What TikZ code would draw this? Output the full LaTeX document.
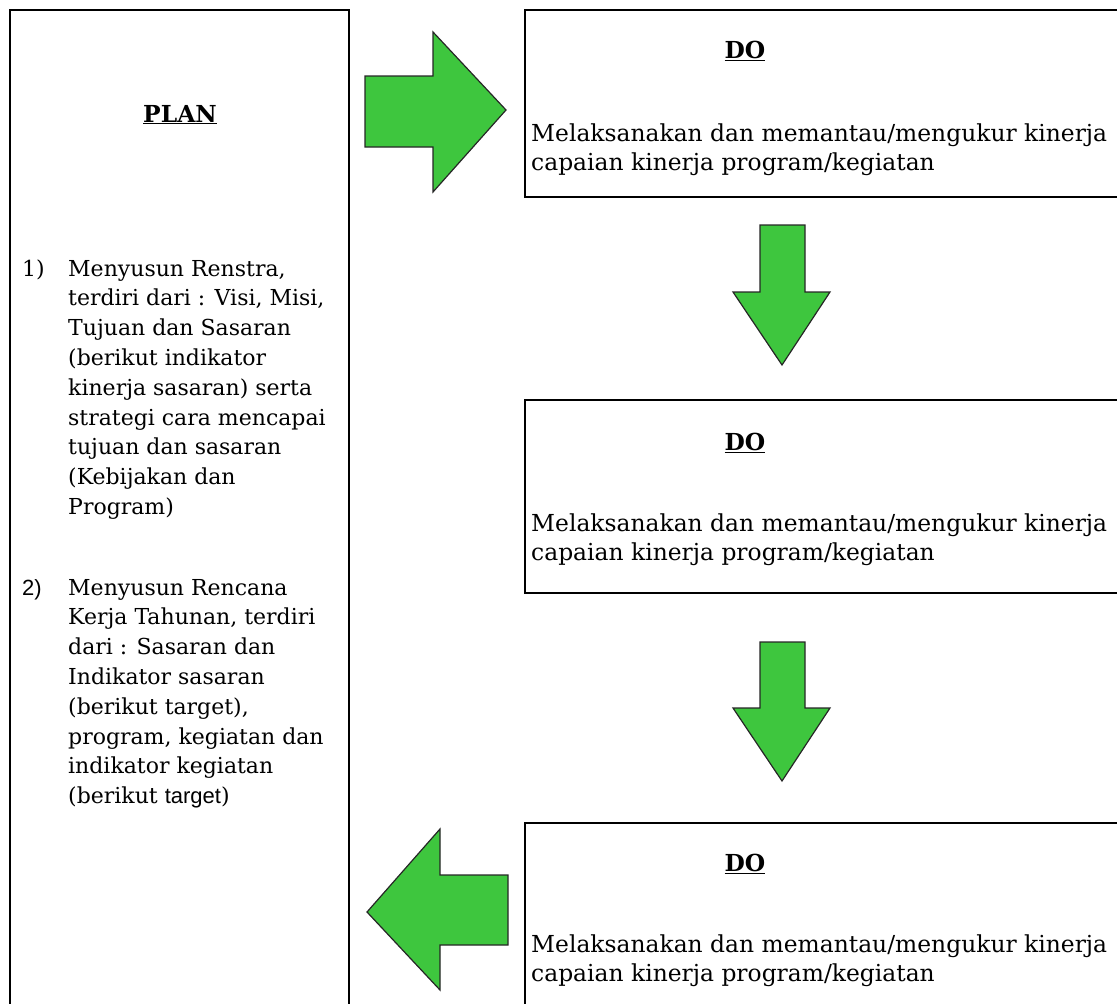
\documentclass[tikz,border=0pt]{standalone}
\usepackage{fontspec}
\setmainfont{DejaVu Serif}
\newfontfamily\arialfont{Liberation Sans}
\definecolor{arrowgreen}{RGB}{62,198,62}
\tikzset{
  frame/.style={draw=black, line width=1.3pt},
  bigarrow/.style={fill=arrowgreen, draw=black!85, line width=1.2pt, line join=miter},
  body/.style={anchor=base west, inner sep=0pt, align=left,
    font=\fontsize{23.4}{29.8}\selectfont},
  listtext/.style={anchor=base west, inner sep=0pt, align=left,
    font=\fontsize{22}{29.8}\selectfont},
  title/.style={anchor=base, inner sep=0pt, font=\fontsize{23.4}{29.8}\selectfont\bfseries},
}
\begin{document}
\begin{tikzpicture}[x=1pt,y=-1pt]
\useasboundingbox (0,0) rectangle (1117,1004);
\clip (0,0) rectangle (1117,1004);
% boxes
\draw[frame] (10,10) rectangle (349,1020);
\draw[frame] (525,10) rectangle (1130,197);
\draw[frame] (525,400) rectangle (1130,593);
\draw[frame] (525,823) rectangle (1130,1020);
% PLAN
\node[title] (plan) at (180,122) {\underline{PLAN}};
\node[listtext] (n1) at (22,276) {1)};
% anchored at the baseline of the last line
\node[listtext] (t1) at (68,514.4) {Menyusun Renstra,\\terdiri dari : Visi, Misi,\\Tujuan dan Sasaran\\(berikut indikator\\kinerja sasaran) serta\\strategi cara mencapai\\tujuan dan sasaran\\(Kebijakan dan\\Program)};
\node[listtext] (n2) at (22,595) {\arialfont 2)};
\node[listtext] (t2) at (68,803.6) {Menyusun Rencana\\Kerja Tahunan, terdiri\\dari : Sasaran dan\\Indikator sasaran\\(berikut target),\\program, kegiatan dan\\indikator kegiatan\\(berikut {\arialfont target})};
% DO boxes
\node[title] (do1) at (745,58) {\underline{DO}};
\node[body] (b1) at (531,170.8) {Melaksanakan dan memantau/mengukur kinerja\\capaian kinerja program/kegiatan};
\node[title] (do2) at (745,450) {\underline{DO}};
\node[body] (b2) at (531,560.8) {Melaksanakan dan memantau/mengukur kinerja\\capaian kinerja program/kegiatan};
\node[title] (do3) at (745,871) {\underline{DO}};
\node[body] (b3) at (531,981.8) {Melaksanakan dan memantau/mengukur kinerja\\capaian kinerja program/kegiatan};
% arrows
\draw[bigarrow] (365,76) -- (433,76) -- (433,32) -- (506,110) -- (433,192) -- (433,147) -- (365,147) -- cycle;
\draw[bigarrow] (760,225) -- (805,225) -- (805,292) -- (830,292) -- (782,365) -- (733,292) -- (760,292) -- cycle;
\draw[bigarrow] (760,642) -- (805,642) -- (805,708) -- (830,708) -- (782,781) -- (733,708) -- (760,708) -- cycle;
\draw[bigarrow] (508,875) -- (440,875) -- (440,829) -- (367,912) -- (440,990) -- (440,945) -- (508,945) -- cycle;
\end{tikzpicture}
\end{document}
